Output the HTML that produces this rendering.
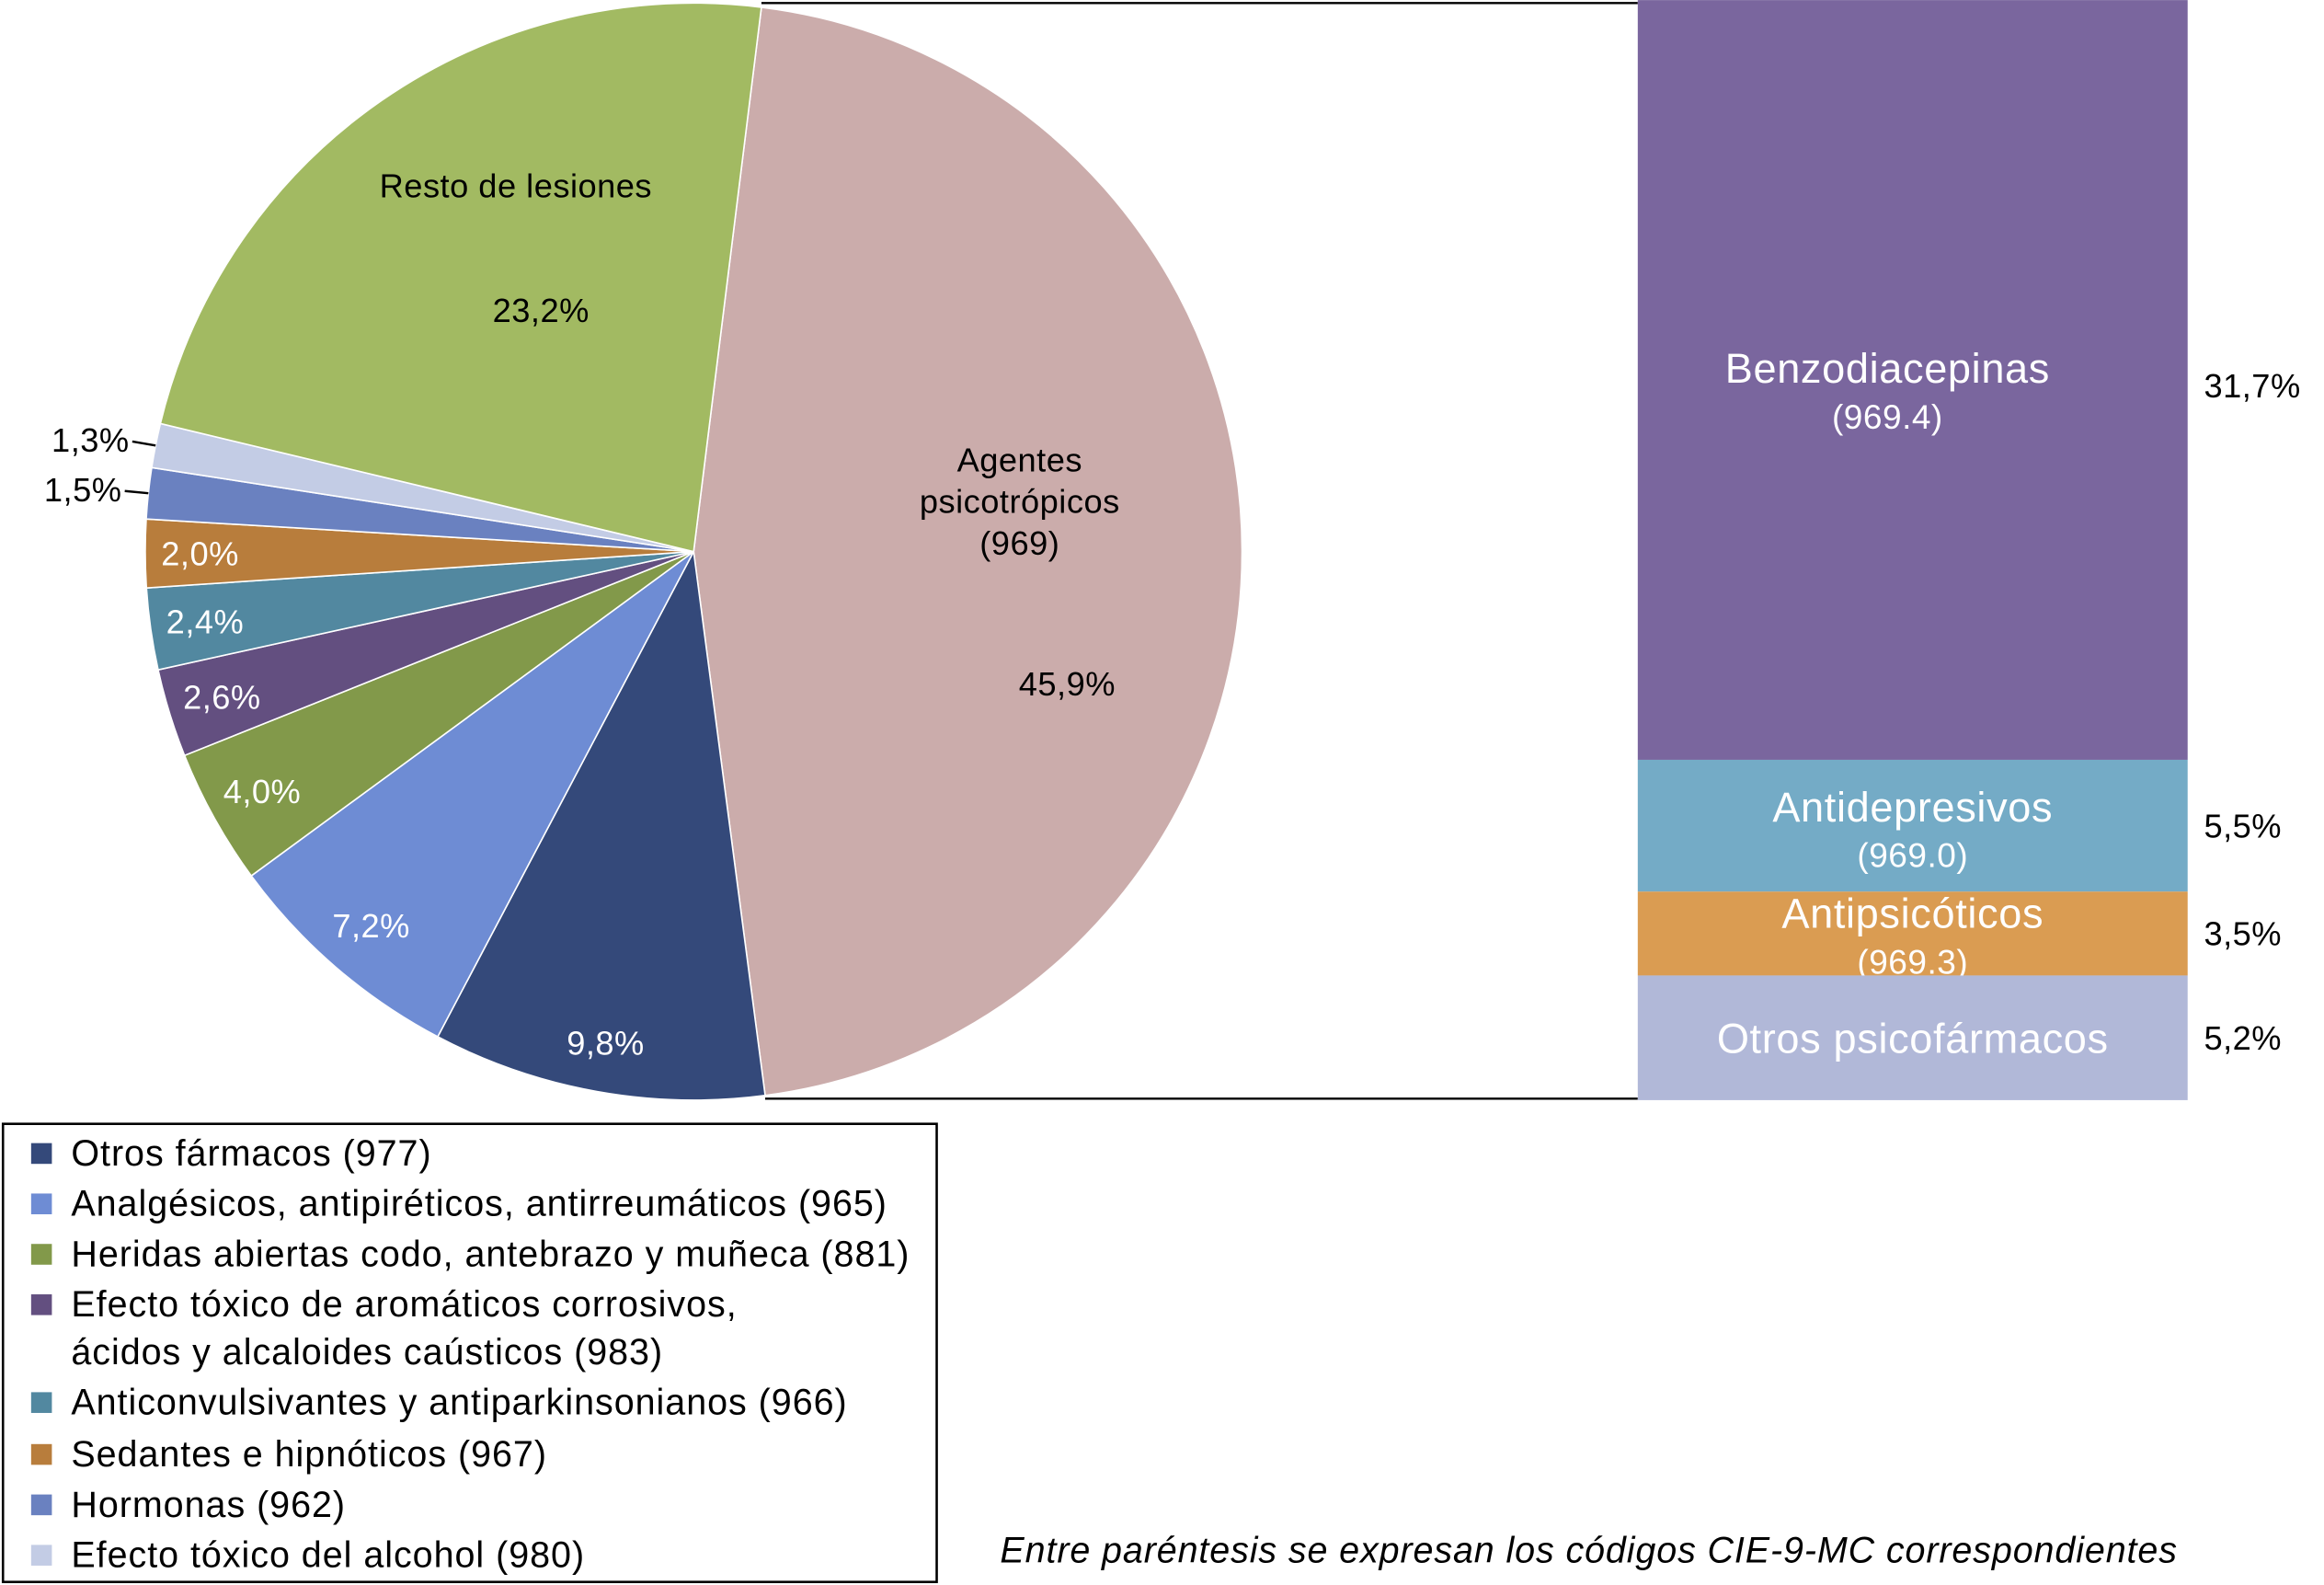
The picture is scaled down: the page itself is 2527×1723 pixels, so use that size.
<!DOCTYPE html>
<html><head><meta charset="utf-8">
<style>
html,body{margin:0;padding:0;background:#fff;}
svg{display:block;font-family:"Liberation Sans",sans-serif;}
</style></head>
<body>
<svg id="chart" width="2527" height="1723" viewBox="0 0 1568 1069" xmlns="http://www.w3.org/2000/svg">
<g id="pie"></g>
<g id="bar"></g>
<g id="legend">
<rect x="2" y="758" width="630" height="309" fill="#fff" stroke="#000" stroke-width="1.6"/>
</g>
<text x="1072" y="1054" font-size="24.5" letter-spacing="0.55" font-style="italic" text-anchor="middle">Entre paréntesis se expresan los códigos CIE-9-MC correspondientes</text>
</svg>
<script>
const pieCategories = ["Agentes psicotrópicos (969)","Otros fármacos (977)","Analgésicos, antipiréticos, antirreumáticos (965)","Heridas abiertas codo, antebrazo y muñeca (881)","Efecto tóxico de aromáticos corrosivos, ácidos y alcaloides caústicos (983)","Anticonvulsivantes y antiparkinsonianos (966)","Sedantes e hipnóticos (967)","Hormonas (962)","Efecto tóxico del alcohol (980)","Resto de lesiones"];
const pieValues = [45.9, 9.8, 7.2, 4.0, 2.6, 2.4, 2.0, 1.5, 1.3, 23.2];
const pieLabels = ["45,9%","9,8%","7,2%","4,0%","2,6%","2,4%","2,0%","1,5%","1,3%","23,2%"];
const pieColors = ["#CBACAB","#34497A","#6E8CD4","#82994A","#634F80","#5288A0","#B87D3C","#6A81C0","#C3CCE5","#A2BA62"];
const barCategories = ["Benzodiacepinas","Antidepresivos","Antipsicóticos","Otros psicofármacos"];
const barCodes = ["(969.4)","(969.0)","(969.3)",""];
const barValues = [31.7, 5.5, 3.5, 5.2];
const barLabels = ["31,7%","5,5%","3,5%","5,2%"];
const barColors = ["#7A669E","#74ABC6","#DA9C52","#B1B8D8"];
const legendLines = [["Otros fármacos (977)"],["Analgésicos, antipiréticos, antirreumáticos (965)"],["Heridas abiertas codo, antebrazo y muñeca (881)"],["Efecto tóxico de aromáticos corrosivos,","ácidos y alcaloides caústicos (983)"],["Anticonvulsivantes y antiparkinsonianos (966)"],["Sedantes e hipnóticos (967)"],["Hormonas (962)"],["Efecto tóxico del alcohol (980)"]];

const NS="http://www.w3.org/2000/svg";
function mk(tag,attrs,parent,txt){const e=document.createElementNS(NS,tag);for(const k in attrs)e.setAttribute(k,attrs[k]);if(txt!==undefined)e.textContent=txt;parent.appendChild(e);return e;}
const cx=468,cy=372,R=370,start=7.1;
const total=pieValues.reduce((a,b)=>a+b,0);
const pt=(deg,r)=>[cx+r*Math.sin(deg*Math.PI/180),cy-r*Math.cos(deg*Math.PI/180)];
const pie=document.getElementById('pie');
let a=start;
const angles=[];
pieValues.forEach((v,i)=>{
  const sweep=v/total*360, a2=a+sweep;
  const p1=pt(a,R),p2=pt(a2,R);
  const s=mk('path',{d:`M${cx},${cy}L${p1[0]},${p1[1]}A${R},${R} 0 ${sweep>180?1:0} 1 ${p2[0]},${p2[1]}Z`,fill:pieColors[i],stroke:"#fff","stroke-width":1},pie);
  
  
  angles.push([a,a2]);a=a2;
});
const FS=22.5, LS=0.3;
angles.forEach((ag,i)=>{
  const mid=(ag[0]+ag[1])/2;
  const dark = i===0||i===9;
  if(i===7||i===8){
    const pe=pt(mid,R), po=pt(mid,R+14);
    const ln=mk('line',{x1:pe[0],y1:pe[1],x2:po[0]-2,y2:po[1],stroke:"#000","stroke-width":1.5},pie);
    
    
    const t=mk('text',{x:po[0]-4,y:po[1]+7,"font-size":FS,"letter-spacing":LS,"text-anchor":"end"},pie,pieLabels[i]);
    
    
    return;
  }
  let p=pt(mid,R*(i===1?0.91:0.9));
  if(i===0){p=[720,461];}
  if(i===9){p=[365,209];}
  const t=mk('text',{x:p[0],y:p[1]+8,"font-size":FS,"letter-spacing":LS,"text-anchor":"middle",fill:dark?"#000":"#fff"},pie,pieLabels[i]);
  
  
});
[["Agentes",688,318],["psicotrópicos",688,346],["(969)",688,374],["Resto de lesiones",348,133]].forEach((c,k)=>{
  const t=mk('text',{x:c[1],y:c[2],"font-size":FS,"letter-spacing":LS,"text-anchor":"middle"},pie,c[0]);
  
  
});
const bar=document.getElementById('bar');
const bx=1105,bw=371,bh=742,bsum=barValues.reduce((a,b)=>a+b,0);
const p0=pt(start,R), pe=pt(start+pieValues[0]/total*360,R);
const c1=mk('line',{x1:p0[0],y1:2,x2:bx,y2:2,stroke:"#000","stroke-width":1.5},bar);


const c2=mk('line',{x1:pe[0],y1:741,x2:bx,y2:741,stroke:"#000","stroke-width":1.5},bar);


let y=0;
barValues.forEach((v,i)=>{
  const h=v/bsum*bh;
  const r=mk('rect',{x:bx,y:y,width:bw,height:h,fill:barColors[i]},bar);
  
  
  const mid=y+h/2;
  const hasCode=barCodes[i]!=="";
  const ty = i===0?258 : (hasCode? mid+(i===2?-4:-3): mid+10);
  const t=mk('text',{x:bx+bw/2-(i===0?17:0),y:ty,"font-size":28,"letter-spacing":0.4,"text-anchor":"middle",fill:"#fff"},bar,barCategories[i]);
  
  
  if(hasCode){
    const t2=mk('text',{x:bx+bw/2-(i===0?17:0),y:ty+31,"font-size":23,"letter-spacing":0.3,"text-anchor":"middle",fill:"#fff"},bar,barCodes[i]);
    
    
  }
  const py = i===0?268 : mid+8;
  const t3=mk('text',{x:1487,y:py,"font-size":FS,"letter-spacing":LS},bar,barLabels[i]);
  
  
  y+=h;
});
const lg=document.getElementById('legend');
const rows=[778,812,846,880,946,981,1015,1049];
legendLines.forEach((lines,i)=>{
  const ly=rows[i];
  const s=mk('rect',{x:21,y:ly-7,width:14,height:14,fill:pieColors[i+1]},lg);
  
  
  lines.forEach((ln,k)=>{
    const t=mk('text',{x:48,y:ly+8+k*32,"font-size":24.5,"letter-spacing":0.6},lg,ln);
    
    
  });
});
</script>
</body></html>
